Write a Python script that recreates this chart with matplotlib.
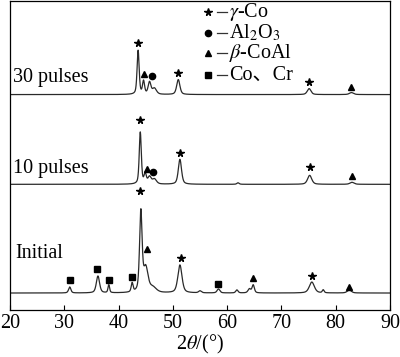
import numpy as np
import matplotlib
matplotlib.use("Agg")
import matplotlib.pyplot as plt

plt.rcParams['font.family'] = ['Liberation Serif', 'Noto Sans CJK SC']
plt.rcParams['mathtext.fontset'] = 'stix'

# peaks: (2theta, height, fwhm) for each pattern, heights in arbitrary units
initial_peaks = [(31.0, 6, 0.5), (36.2, 17, 0.7), (38.2, 8, 0.35), (42.5, 9, 0.4),
                 (44.1, 80, 0.55), (45.0, 24, 1.0), (46.3, 5, 1.5), (51.3, 28, 0.9),
                 (55.0, 2, 0.6), (58.4, 4, 0.6), (61.8, 3, 0.5), (64.1, 4, 0.6),
                 (64.8, 8, 0.5), (75.6, 11, 1.1), (77.7, 3, 0.4), (82.5, 3, 0.9)]
p10_peaks = [(44.0, 52, 0.45), (44.9, 10, 0.5), (45.7, 7, 0.7), (46.6, 5, 0.9),
             (51.3, 25, 0.7), (62.0, 1.5, 0.5), (75.2, 9, 0.9), (83.0, 2, 0.9)]
p30_peaks = [(43.6, 44, 0.45), (44.6, 13, 0.45), (45.7, 12, 0.6), (46.6, 6, 0.9),
             (51.0, 15, 0.7), (75.1, 6, 0.8), (82.9, 2, 0.9)]
baselines = {'Initial': 17, '10 pulses': 126, '30 pulses': 216}

# phase markers (2theta, y)
stars_x = [43.6, 51.0, 75.0, 43.9, 51.4, 75.3, 44.0, 51.5, 75.7]
stars_y = [268, 238, 229, 190, 157, 143, 119, 52, 34]
circles_x = [46.2, 46.3]
circles_y = [235, 138]
tri_x = [44.7, 82.8, 45.2, 83.0, 45.2, 64.7, 82.5]
tri_y = [237, 224, 141, 134, 61, 32, 23]
sq_x = [31.0, 36.1, 38.3, 42.4, 58.4]
sq_y = [30, 41, 30, 33, 26]

x = np.linspace(20, 90, 3000)


def pattern(peaks, base):
    y = np.full_like(x, base, dtype=float)
    for c, h, w in peaks:
        u = (x - c) / (w / 2)
        y += h * (0.5 / (1 + u ** 2) + 0.5 * np.exp(-np.log(2) * u ** 2))
    return y


fig = plt.figure(figsize=(4.0, 3.57), dpi=100)
ax = fig.add_axes([0.025, 0.1317, 0.95, 0.866])

lc = '#2a2a2a'
ax.plot(x, pattern(p30_peaks, baselines['30 pulses']), color=lc, lw=0.9)
ax.plot(x, pattern(p10_peaks, baselines['10 pulses']), color=lc, lw=0.9)
ax.plot(x, pattern(initial_peaks, baselines['Initial']), color=lc, lw=0.9)

ax.plot(stars_x, stars_y, ls='none', marker='*', ms=5.5, color='k')
ax.plot(circles_x, circles_y, ls='none', marker='o', ms=4.5, color='k')
ax.plot(tri_x, tri_y, ls='none', marker='^', ms=5, color='k')
ax.plot(sq_x, sq_y, ls='none', marker='s', ms=4.5, color='k')

ax.text(20.6, 233, '30 pulses', fontsize=14.5, va='center')
ax.text(20.6, 142, '10 pulses', fontsize=14.5, va='center')
ax.text(20.9, 57, 'Initial', fontsize=14.5, va='center')

# legend drawn by hand
leg_marks = ['*', 'o', '^', 's']
leg_labels = [r'$\gamma$-Co', r'Al$_2$O$_3$', r'$\beta$-CoAl', 'Co、Cr']
leg_y = [0.964, 0.896, 0.832, 0.760]
for m, lab, yy in zip(leg_marks, leg_labels, leg_y):
    ax.plot([0.521], [yy], marker=m, ms=4.5 if m != '*' else 5.5, color='k',
            transform=ax.transAxes, clip_on=False)
    ax.plot([0.545, 0.571], [yy, yy], color='#333333', lw=0.9, transform=ax.transAxes)
    ax.text(0.577, yy, lab, fontsize=14.5, va='center', transform=ax.transAxes)

ax.set_xlim(20, 90)
ax.set_ylim(0, 310)
ax.set_yticks([])
ax.set_xticks(range(20, 91, 10))
ax.tick_params(axis='x', direction='in', length=3.5, labelsize=14.5, pad=3)
ax.set_xlabel(r'2$\theta$/(°)', fontsize=14.5, labelpad=0)
for s in ax.spines.values():
    s.set_linewidth(0.9)

fig.savefig('out.png', dpi=100)
